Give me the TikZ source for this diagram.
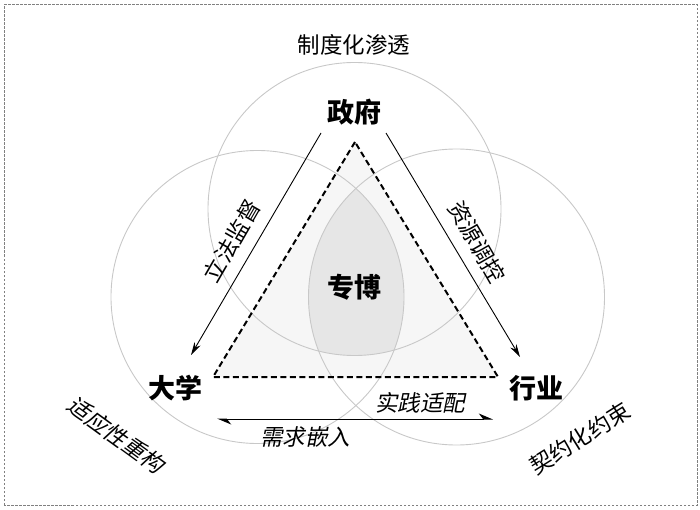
\documentclass[tikz,border=0pt]{standalone}
\usepackage{fontspec}
\setmainfont{Noto Sans CJK SC}
\newfontfamily\slantcjk{Noto Sans CJK SC}[FakeSlant=0.2]
\usetikzlibrary{arrows.meta}
\definecolor{ringgray}{HTML}{C8C8C8}
\definecolor{framegray}{HTML}{808080}
\definecolor{coregray}{HTML}{E6E6E6}
\definecolor{trifill}{HTML}{F6F6F6}

\begin{document}
\begin{tikzpicture}[
    x=1pt, y=1pt,
    actor/.style={font=\fontsize{27}{27}\selectfont\bfseries},
    tag/.style={font=\fontsize{22.5}{22.5}\selectfont},
    slanttag/.style={font=\fontsize{22.5}{22.5}\selectfont\slantcjk},
    ring/.style={draw=ringgray, line width=0.9pt},
    flow/.style={-{Stealth[length=13pt, width=7pt]}, line width=0.9pt}
]
\useasboundingbox (0,0) rectangle (700,509);

% Frame
\draw[framegray, line width=1pt, dash pattern=on 2.5pt off 1.5pt] (4,4) rectangle (697,504);

% Triangle corners
\coordinate (apex) at (355,367);
\coordinate (left) at (213,132);
\coordinate (right) at (498,132);

% Triangle fill
\fill[trifill] (apex) -- (left) -- (right) -- cycle;

% Core (inside all three circles)
\begin{scope}
\clip (354.5,300) circle[radius=146.5];
\clip (257.5,212) circle[radius=146.5];
\fill[coregray] (456.5,212) circle[radius=148];
\end{scope}

% Circles
\draw[ring] (354.5,300) circle[radius=146.5];
\draw[ring] (257.5,212) circle[radius=146.5];
\draw[ring] (456.5,212) circle[radius=148];

% Dashed triangle
\draw[line width=2pt, dash pattern=on 6pt off 3.5pt] (apex) -- (left) -- (right) -- cycle;

% Actors
\node[actor] (gov) at (354,397) {政府};
\node[actor] (uni) at (175,121) {大学};
\node[actor] (ind) at (536,121) {行业};
\node[actor] (core) at (354,222) {专博};

% Arrow ends
\coordinate (gov-l) at (321,376);
\coordinate (uni-t) at (191,154);
\coordinate (gov-r) at (386,376);
\coordinate (ind-t) at (520,152);
\coordinate (uni-r) at (217,90);
\coordinate (ind-l) at (493,90);

% Arrows
\draw[flow] (gov-l) -- (uni-t);
\draw[flow] (gov-r) -- (ind-t);
\draw[{Stealth[harpoon, length=13pt, width=11pt]}-{Stealth[harpoon, length=13pt, width=11pt]}, line width=1pt] (uni-r) -- (ind-l);

% Labels
\node[tag] (inst) at (354,464) {制度化渗透};
\node[tag, rotate=60] (law) at (232,268) {立法监督};
\node[tag, rotate=-60] (res) at (477,267) {资源调控};
\node[slanttag] (prac) at (420,106) {实践适配};
\node[slanttag] (need) at (305,72) {需求嵌入};
\node[slanttag, rotate=-36] (adapt) at (116,74) {适应性重构};
\node[tag, rotate=32] (contr) at (580,71) {契约化约束};

\end{tikzpicture}
\end{document}
